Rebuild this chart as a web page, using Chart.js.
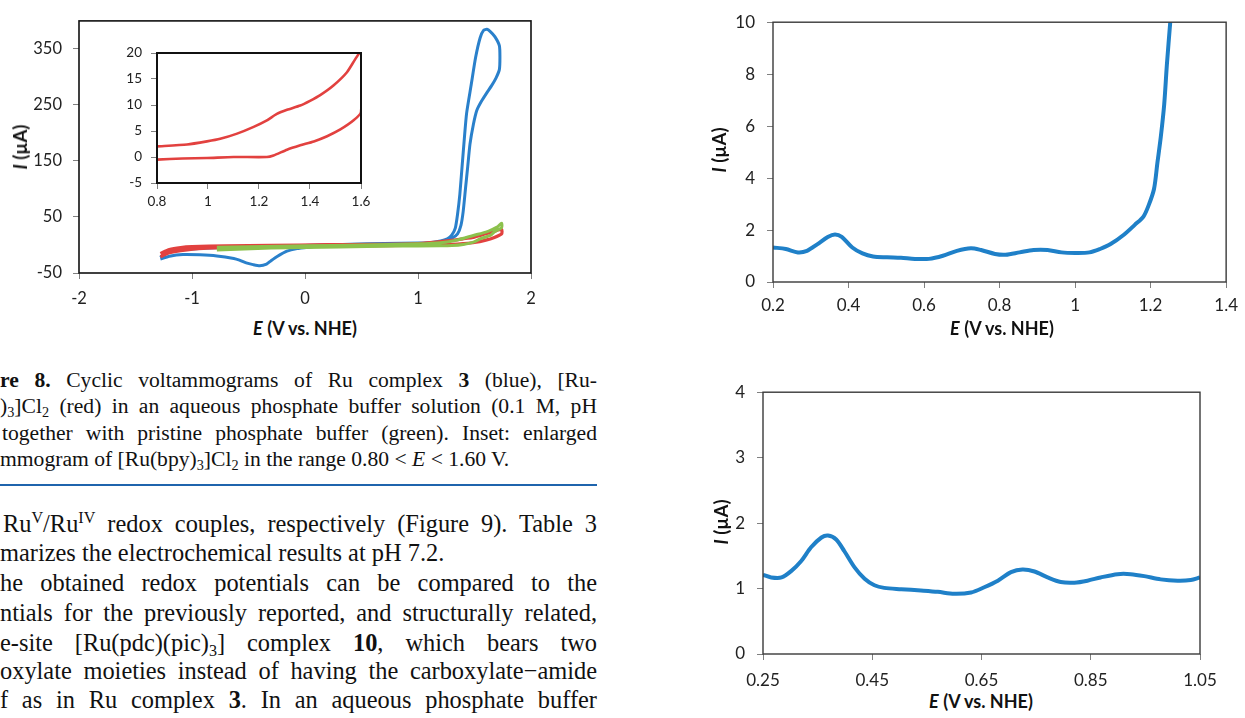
<!DOCTYPE html>
<html><head><meta charset="utf-8">
<script src="https://cdn.jsdelivr.net/npm/chart.js@4.4.0/dist/chart.umd.min.js"></script>
<style>
html,body{margin:0;padding:0;background:#fff;}
body{width:1245px;height:718px;overflow:hidden;position:relative;}
canvas{position:absolute;}
.t{position:absolute;left:0;font-family:'Liberation Serif','Times New Roman',serif;color:#111;white-space:nowrap;}
.j{width:597px;text-align:justify;text-align-last:justify;white-space:normal;}
.cap{font-size:21.6px;line-height:26px;}
.par{font-size:24.4px;line-height:30px;}
sub{font-size:0.66em;vertical-align:-0.3em;line-height:0;}
sup{font-size:0.66em;vertical-align:0.55em;line-height:0;}
.ax{position:absolute;font-family:Lato,'Open Sans',sans-serif;font-weight:bold;font-size:18px;color:#111;white-space:nowrap;transform:translate(-50%,-50%);}
.ay{position:absolute;font-family:Lato,'Open Sans',sans-serif;font-weight:bold;font-size:18.5px;color:#111;white-space:nowrap;transform:translate(-50%,-50%) rotate(-90deg);}
.rule{position:absolute;left:0;top:484px;width:597px;height:2px;background:#1f64ad;}
</style>
</head><body>
<canvas id="cv" width="560" height="315" style="left:0;top:0"></canvas>
<canvas id="inset" width="260" height="180" style="left:120px;top:35px"></canvas>
<canvas id="dpv" width="555" height="318" style="left:690px;top:0"></canvas>
<canvas id="dpvz" width="555" height="318" style="left:690px;top:370px"></canvas>

<div class="ay" style="left:20px;top:147px"><i>I</i> (µA)</div>
<div class="ax" style="left:305px;top:328px"><i>E</i> (V vs. NHE)</div>
<div class="ay" style="left:719px;top:150px"><i>I</i> (µA)</div>
<div class="ax" style="left:1002px;top:328px"><i>E</i> (V vs. NHE)</div>
<div class="ay" style="left:721px;top:522px"><i>I</i> (µA)</div>
<div class="ax" style="left:981px;top:701px"><i>E</i> (V vs. NHE)</div>

<div class="t cap j" style="top:367px"><b>re 8.</b> Cyclic voltammograms of Ru complex <b>3</b> (blue), [Ru-</div>
<div class="t cap j" style="top:393px">)<sub>3</sub>]Cl<sub>2</sub> (red) in an aqueous phosphate buffer solution (0.1 M, pH</div>
<div class="t cap j" style="top:420px;left:2px;width:595px">together with pristine phosphate buffer (green). Inset: enlarged</div>
<div class="t cap" style="top:446px">mmogram of [Ru(bpy)<sub>3</sub>]Cl<sub>2</sub> in the range 0.80 &lt; <i>E</i> &lt; 1.60 V.</div>
<div class="rule"></div>
<div class="t par j" style="top:509px;left:3px;width:594px">Ru<sup>V</sup>/Ru<sup>IV</sup> redox couples, respectively (Figure 9). Table 3</div>
<div class="t par" style="top:538px">marizes the electrochemical results at pH 7.2.</div>
<div class="t par j" style="top:568px">he obtained redox potentials can be compared to the</div>
<div class="t par j" style="top:598px">ntials for the previously reported, and structurally related,</div>
<div class="t par j" style="top:628px">e-site [Ru(pdc)(pic)<sub>3</sub>] complex <b>10</b>, which bears two</div>
<div class="t par j" style="top:656px">oxylate moieties instead of having the carboxylate−amide</div>
<div class="t par j" style="top:685px">f as in Ru complex <b>3</b>. In an aqueous phosphate buffer</div>

<script>
// ---------- DATA ----------
// Cyclic voltammogram, Ru complex 3 (blue)
const cvBlueE = [-1.28,-1.24,-1.15,-1.0,-0.8,-0.5,-0.2,0,0.3,0.6,0.9,1.1,1.2,1.26,1.30,1.33,1.35,1.37,1.39,1.41,1.43,1.47,1.51,1.55,1.58,1.61,1.64,1.68,1.72,1.725,1.72,1.69,1.65,1.61,1.56,1.52,1.49,1.46,1.44,1.42,1.40,1.38,1.35,1.30,1.25,1.15,1.0,0.7,0.4,0.2,0.05,-0.07,-0.16,-0.25,-0.30,-0.34,-0.40,-0.46,-0.52,-0.58,-0.63,-0.78,-0.93,-1.08,-1.2,-1.28];
const cvBlueI = [-22,-14,-9,-7,-5,-3.5,-2,-1,0.5,1.5,2.5,4,7,11,18,30,55,90,140,190,235,285,335,370,383,385,381,372,356,335,313,298,284,272,256,240,215,180,140,100,60,35,20,12,9,5,3.5,2.5,1.5,0,-3.5,-6.5,-11,-21,-28,-34,-37,-35,-32,-27,-24,-19.5,-17.5,-17,-20,-25];
// [Ru(bpy)3]Cl2 (red)
const cvRedE = [-1.28,-1.2,-1.1,-1.0,-0.7,-0.3,0.2,0.6,1.0,1.2,1.4,1.5,1.6,1.67,1.74,1.74,1.67,1.6,1.5,1.4,1.3,1.2,1.0,0.5,0,-0.5,-0.9,-1.1,-1.2,-1.28];
const cvRedI = [-15,-8,-4.5,-3,-1.5,-0.5,0.5,1,2.5,6,11,14,20,24,28,20,13,8.7,4.5,2.5,1,0,-0.5,-1.5,-2,-3.5,-6,-10,-14,-21];
// pristine phosphate buffer (green)
const cvGreenE = [-0.78,-0.5,0,0.5,1.0,1.2,1.35,1.49,1.6,1.64,1.70,1.74,1.74,1.68,1.64,1.55,1.49,1.40,1.30,1.2,0.8,0.3,-0.3,-0.78];
const cvGreenI = [-4,-3,-1.5,0,2,4,9,17,23,26,32,39,31,24,17,11,5,1,-1,-1.5,-2,-3.5,-5.5,-9];
// Inset: [Ru(bpy)3]Cl2, 0.80 < E < 1.60 V
const insetE = [0.8,0.918,0.996,1.048,1.114,1.179,1.231,1.27,1.31,1.362,1.4,1.44,1.493,1.545,1.6,1.6,1.571,1.519,1.467,1.415,1.362,1.31,1.257,1.231,1.1,0.996,0.9,0.8];
const insetI = [2.05,2.4,3.0,3.5,4.5,5.8,7.05,8.3,9.1,9.9,10.8,11.9,13.8,16.3,20.2,8.65,7.05,5.3,4.0,3.0,2.24,1.4,0.3,0,0,-0.2,-0.3,-0.5];
// Differential pulse voltammogram (top right)
const dpvE = [0.2,0.234,0.266,0.29,0.317,0.345,0.364,0.382,0.41,0.437,0.465,0.502,0.539,0.576,0.613,0.65,0.687,0.724,0.751,0.788,0.816,0.853,0.89,0.927,0.964,1.0,1.038,1.066,1.093,1.13,1.158,1.181,1.195,1.209,1.218,1.227,1.236,1.243,1.252,1.26];
const dpvI = [1.33,1.27,1.14,1.2,1.45,1.73,1.83,1.74,1.33,1.1,0.98,0.95,0.93,0.89,0.89,1.01,1.2,1.3,1.23,1.08,1.05,1.14,1.23,1.23,1.14,1.12,1.14,1.27,1.45,1.83,2.2,2.52,2.96,3.58,4.59,5.59,6.84,8.35,10.0,11.5];
// Differential pulse voltammogram, enlarged (bottom right)
const dpvZoomE = [0.25,0.265,0.284,0.302,0.32,0.338,0.357,0.369,0.384,0.399,0.418,0.436,0.454,0.472,0.503,0.539,0.57,0.6,0.631,0.655,0.68,0.704,0.725,0.747,0.771,0.795,0.82,0.844,0.868,0.899,0.923,0.948,0.978,1.009,1.033,1.05];
const dpvZoomI = [1.21,1.17,1.17,1.27,1.42,1.63,1.78,1.81,1.75,1.57,1.32,1.15,1.05,1.01,0.99,0.97,0.95,0.92,0.94,1.02,1.12,1.25,1.29,1.26,1.17,1.1,1.09,1.12,1.17,1.22,1.22,1.19,1.14,1.12,1.13,1.17];

// Tick values and labels
const cvXTicks = [-2,-1,0,1,2];
const cvXLabels = ['-2','-1','0','1','2'];
const cvYTicks = [-50,50,150,250,350];
const cvYLabels = ['-50','50','150','250','350'];
const insetXTicks = [0.8,1.0,1.2,1.4,1.6];
const insetXLabels = ['0.8','1','1.2','1.4','1.6'];
const insetYTicks = [-5,0,5,10,15,20];
const insetYLabels = ['-5','0','5','10','15','20'];
const dpvXTicks = [0.2,0.4,0.6,0.8,1.0,1.2,1.4];
const dpvXLabels = ['0.2','0.4','0.6','0.8','1','1.2','1.4'];
const dpvYTicks = [0,2,4,6,8,10];
const dpvYLabels = ['0','2','4','6','8','10'];
const dpvZoomXTicks = [0.25,0.45,0.65,0.85,1.05];
const dpvZoomXLabels = ['0.25','0.45','0.65','0.85','1.05'];
const dpvZoomYTicks = [0,1,2,3,4];
const dpvZoomYLabels = ['0','1','2','3','4'];

// ---------- helpers ----------
const pts = (xs, ys) => xs.map((x, i) => ({x: x, y: ys[i]}));
const boxPlugin = {
  id: 'box',
  afterDatasetsDraw(chart, args, o) {
    const a = chart.chartArea, c = chart.ctx;
    c.save(); c.strokeStyle = o.color; c.lineWidth = o.width;
    c.strokeRect(a.left, a.top, a.right - a.left, a.bottom - a.top);
    c.restore();
  }
};
function scale(o) {
  return {
    type: 'linear', min: o.min, max: o.max,
    afterBuildTicks: s => { s.ticks = o.ticks.map(v => ({value: v})); },
    afterFit: s => { if (o.axis === 'x') s.height = o.size; else s.width = o.size; },
    grid: {display: true, drawOnChartArea: false, drawTicks: true, tickLength: 6, color: '#808080', lineWidth: 1},
    border: {display: false},
    ticks: {autoSkip: false, maxRotation: 0, padding: o.pad, color: '#222',
      font: {family: 'Lato', size: o.font},
      callback: (v, i) => o.labels[i]}
  };
}
function make(id, datasets, xs, ys, padding, box) {
  return new Chart(document.getElementById(id), {
    type: 'scatter',
    data: {datasets: datasets},
    options: {
      responsive: false, animation: false, devicePixelRatio: 1,
      layout: {padding: padding},
      plugins: {legend: {display: false}, tooltip: {enabled: false}, box: box},
      elements: {point: {radius: 0}},
      scales: {x: xs, y: ys}
    },
    plugins: [boxPlugin]
  });
}
const ds = (data, color, w, t) => ({data: data, showLine: true, borderColor: color, borderWidth: w, tension: t, pointRadius: 0, fill: false});

// Main CV chart
make('cv', [
  ds(pts(cvGreenE, cvGreenI), '#8cc14c', 3, 0.2),
  ds(pts(cvRedE, cvRedI), '#e2413f', 3.2, 0.2),
  ds(pts(cvBlueE, cvBlueI), '#2a80cb', 3, 0.2)
],
  scale({axis: 'x', min: -2, max: 2, ticks: cvXTicks, labels: cvXLabels, size: 42, pad: 10, font: 16.5}),
  scale({axis: 'y', min: -50, max: 400, ticks: cvYTicks, labels: cvYLabels, size: 79, pad: 11, font: 16.5}),
  {top: 18, right: 29, left: 0, bottom: 0}, {color: '#111', width: 1.6});

// Inset
make('inset', [ds(pts(insetE, insetI), '#e2413f', 2.6, 0.2)],
  scale({axis: 'x', min: 0.8, max: 1.6, ticks: insetXTicks, labels: insetXLabels, size: 32, pad: 5, font: 13.5}),
  scale({axis: 'y', min: -5, max: 20, ticks: insetYTicks, labels: insetYLabels, size: 37, pad: 9, font: 13.5}),
  {top: 18, right: 19, left: 0, bottom: 0}, {color: '#111', width: 2});

// DPV top right
make('dpv', [ds(pts(dpvE, dpvI), '#1f80c8', 4, 0.3)],
  scale({axis: 'x', min: 0.2, max: 1.4, ticks: dpvXTicks, labels: dpvXLabels, size: 36, pad: 7, font: 17}),
  scale({axis: 'y', min: 0, max: 10, ticks: dpvYTicks, labels: dpvYLabels, size: 83, pad: 12, font: 17}),
  {top: 16, right: 14, left: 0, bottom: 0}, {color: '#3a3a3a', width: 1.4});

// DPV bottom right
make('dpvz', [ds(pts(dpvZoomE, dpvZoomI), '#1f80c8', 4, 0.3)],
  scale({axis: 'x', min: 0.25, max: 1.05, ticks: dpvZoomXTicks, labels: dpvZoomXLabels, size: 34, pad: 10, font: 17}),
  scale({axis: 'y', min: 0, max: 4, ticks: dpvZoomYTicks, labels: dpvZoomYLabels, size: 73, pad: 12, font: 17}),
  {top: 19, right: 45, left: 0, bottom: 0}, {color: '#3a3a3a', width: 1.4});
</script>
</body></html>
